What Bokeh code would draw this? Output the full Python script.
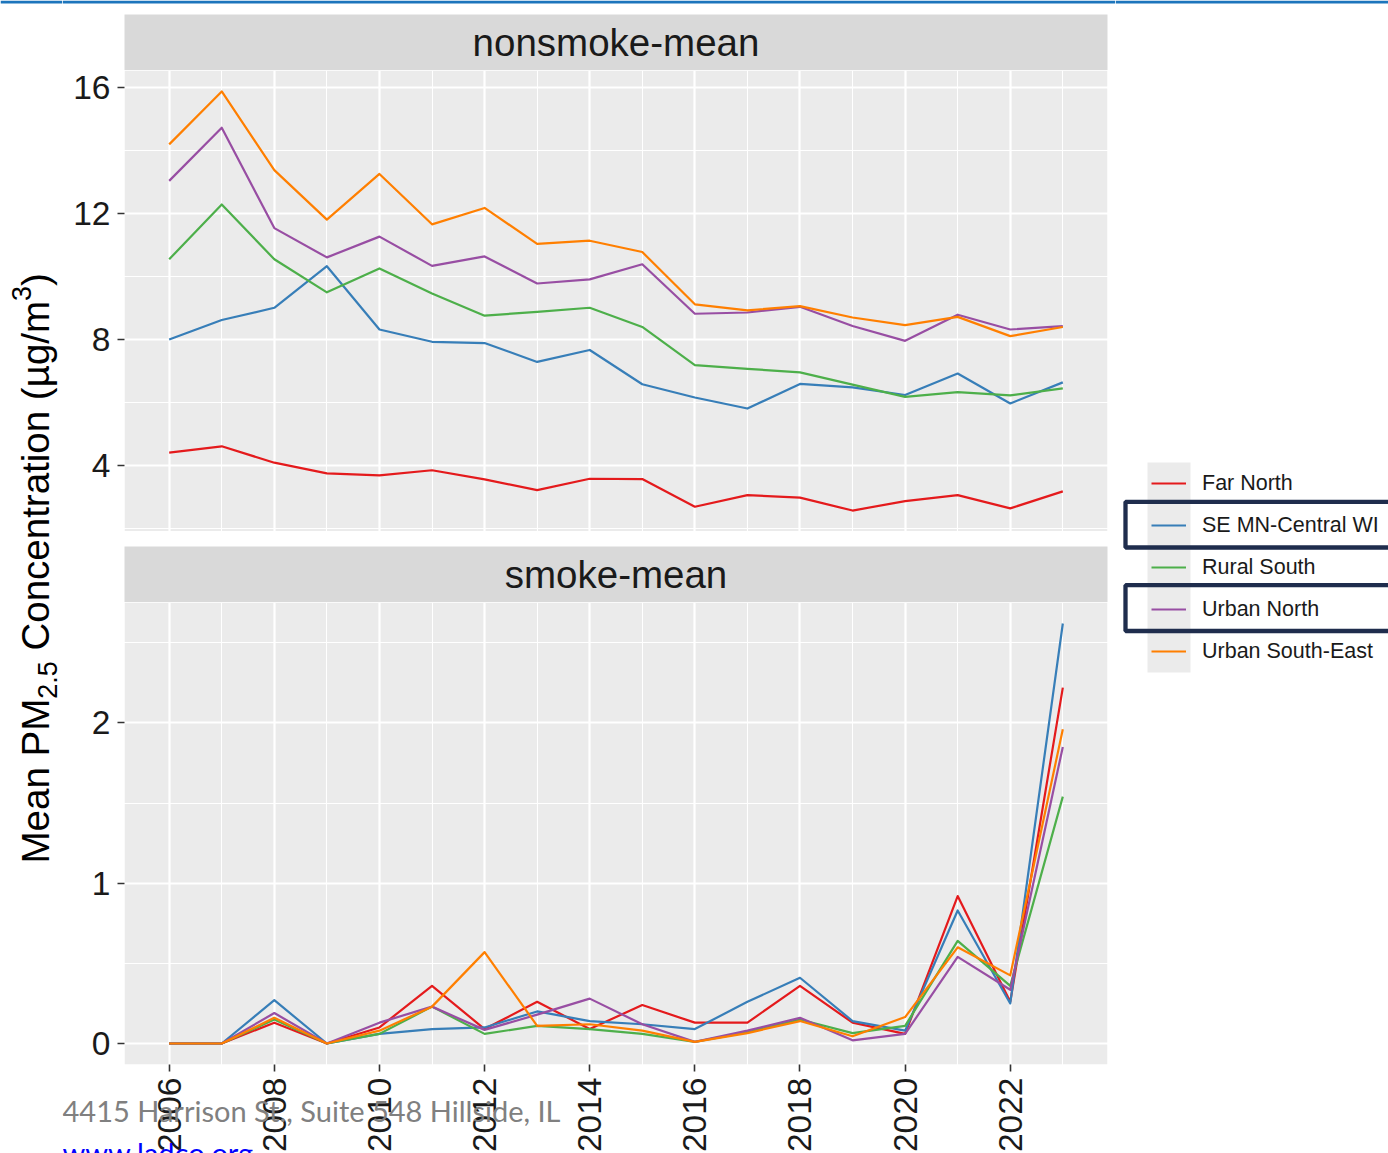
import math
from bokeh.plotting import figure
from bokeh.models import (Range1d, FixedTicker, Label, BoxAnnotation, Legend, LegendItem)
from bokeh.layouts import row, column
from bokeh.embed import file_html
from bokeh.resources import INLINE

# ---------------- data ----------------
years = [2006, 2007, 2008, 2009, 2010, 2011, 2012, 2013, 2014,
         2015, 2016, 2017, 2018, 2019, 2020, 2021, 2022, 2023]

regions = ["Far North", "SE MN-Central WI", "Rural South", "Urban North", "Urban South-East"]
colors = ["#E41A1C", "#377EB8", "#4DAF4A", "#984EA3", "#FF7F00"]

# nonsmoke-mean (ug/m3)
nonsmoke_far_north = [4.40, 4.60, 4.08, 3.74, 3.68, 3.84, 3.55, 3.21, 3.57,
                      3.56, 2.68, 3.05, 2.97, 2.56, 2.86, 3.05, 2.63, 3.17]
nonsmoke_se_mn = [7.99, 8.61, 9.00, 10.32, 8.31, 7.92, 7.88, 7.28, 7.66,
                  6.57, 6.15, 5.80, 6.58, 6.47, 6.23, 6.91, 5.96, 6.63]
nonsmoke_rural_south = [10.54, 12.28, 10.54, 9.49, 10.25, 9.45, 8.75, 8.87, 9.00,
                        8.39, 7.18, 7.06, 6.95, 6.56, 6.17, 6.32, 6.22, 6.44]
nonsmoke_urban_north = [13.03, 14.72, 11.53, 10.60, 11.26, 10.33, 10.63, 9.77, 9.90,
                        10.38, 8.81, 8.85, 9.03, 8.42, 7.95, 8.78, 8.31, 8.42]
nonsmoke_urban_se = [14.19, 15.87, 13.37, 11.80, 13.25, 11.65, 12.17, 11.03, 11.13,
                     10.77, 9.11, 8.92, 9.05, 8.69, 8.45, 8.71, 8.10, 8.39]

# smoke-mean (ug/m3)
smoke_far_north = [0.0, 0.0, 0.13, 0.0, 0.10, 0.36, 0.09, 0.26, 0.09,
                   0.24, 0.13, 0.13, 0.36, 0.13, 0.06, 0.92, 0.26, 2.22]
smoke_se_mn = [0.0, 0.0, 0.27, 0.0, 0.06, 0.09, 0.10, 0.20, 0.14,
               0.12, 0.09, 0.26, 0.41, 0.14, 0.08, 0.83, 0.25, 2.62]
smoke_rural_south = [0.0, 0.0, 0.15, 0.0, 0.06, 0.23, 0.06, 0.11, 0.09,
                     0.06, 0.01, 0.07, 0.15, 0.065, 0.11, 0.64, 0.36, 1.54]
smoke_urban_north = [0.0, 0.0, 0.19, 0.0, 0.13, 0.23, 0.085, 0.18, 0.28,
                     0.12, 0.01, 0.08, 0.16, 0.02, 0.06, 0.54, 0.335, 1.85]
smoke_urban_se = [0.0, 0.0, 0.16, 0.0, 0.08, 0.23, 0.57, 0.11, 0.12,
                  0.08, 0.01, 0.065, 0.14, 0.045, 0.165, 0.60, 0.425, 1.96]

nonsmoke = [nonsmoke_far_north, nonsmoke_se_mn, nonsmoke_rural_south,
            nonsmoke_urban_north, nonsmoke_urban_se]
smoke = [smoke_far_north, smoke_se_mn, smoke_rural_south,
         smoke_urban_north, smoke_urban_se]

panel_titles = ["nonsmoke-mean", "smoke-mean"]
x_ticks = [2006, 2008, 2010, 2012, 2014, 2016, 2018, 2020, 2022]
x_minor = [2007, 2009, 2011, 2013, 2015, 2017, 2019, 2021, 2023]
top_ticks = [4, 8, 12, 16]
top_minor = [2, 6, 10, 14]
bottom_ticks = [0, 1, 2]
bottom_minor = [0.5, 1.5, 2.5]

footer_address = "4415 Harrison St., Suite 548 Hillside, IL"
footer_url = "www.ladco.org"

# ---------------- styling ----------------
FONT = "Liberation Sans"
TXT = "#1a1a1a"
PANEL_BG = "#EBEBEB"
STRIP_BG = "#D9D9D9"
TOP_BAR = "#1C75BC"
PAGE_H = 1153
MAIN_W = 1053
LEFT_B = 62
RIGHT_B = 8
FRAME_W = MAIN_W - LEFT_B - RIGHT_B       # 983
TOP_PANEL_H = 461
BOT_PANEL_H = 462


def expanded(vals_list):
    lo = min(min(v) for v in vals_list)
    hi = max(max(v) for v in vals_list)
    d = (hi - lo) * 0.05
    return lo - d, hi + d


x_lo, x_hi = expanded([years])
kx = (x_hi - x_lo) / FRAME_W
x_view = (x_lo - LEFT_B * kx, x_hi + RIGHT_B * kx)


def scr_box(**kw):
    units = dict(left_units="screen", right_units="screen",
                 top_units="screen", bottom_units="screen")
    units.update(kw)
    return BoxAnnotation(**units)


def blank_fig(width, height):
    f = figure(width=width, height=height, output_backend="svg", toolbar_location=None,
               x_range=Range1d(0, 1), y_range=Range1d(0, 1),
               min_border_left=0, min_border_right=0, min_border_top=0, min_border_bottom=0,
               x_axis_location=None, y_axis_location=None,
               background_fill_color="white", border_fill_color="white",
               outline_line_color=None)
    f.grid.visible = False
    return f


def style_grid(p, yt, ym):
    p.xgrid.ticker = FixedTicker(ticks=x_ticks, minor_ticks=x_minor)
    p.ygrid.ticker = FixedTicker(ticks=yt, minor_ticks=ym)
    for g in (p.xgrid, p.ygrid):
        g.grid_line_color = "white"
        g.grid_line_width = 2.2
        g.minor_grid_line_color = "white"
        g.minor_grid_line_width = 1.1


def style_axis(ax):
    ax.axis_line_color = None
    ax.major_tick_line_color = "#333333"
    ax.major_tick_line_width = 1.6
    ax.major_tick_out = 7
    ax.major_tick_in = 0
    ax.minor_tick_line_color = None
    ax.major_label_standoff = 7
    ax.major_label_text_font = FONT
    ax.major_label_text_font_size = "33.5px"
    ax.major_label_text_color = TXT


def panel_fig(height, y_range, series, yt, ym, y_lo, with_xaxis):
    # frame spans the whole canvas; the grey panel is the data window [x_lo,x_hi] x [y_lo, top]
    p = figure(width=MAIN_W, height=height, output_backend="svg", toolbar_location=None,
               x_range=Range1d(*x_view), y_range=y_range,
               min_border_left=0, min_border_right=0, min_border_top=0, min_border_bottom=0,
               x_axis_location="below" if with_xaxis else None,
               background_fill_color="white", border_fill_color="white",
               outline_line_color=None)
    # grey panel background (drawn beneath the grid)
    p.add_layout(BoxAnnotation(left=x_lo, right=x_hi, bottom=y_lo, fill_color=PANEL_BG,
                               fill_alpha=1, line_color=None, level="image"))
    style_grid(p, yt, ym)
    # hide grid lines outside the panel
    masks = [dict(right=x_lo), dict(left=x_hi)]
    if with_xaxis:
        masks.append(dict(top=y_lo))
    for kw in masks:
        p.add_layout(BoxAnnotation(fill_color="white", fill_alpha=1, line_color=None,
                                   level="underlay", **kw))
    for vals, c in zip(series, colors):
        p.line(years, vals, line_color=c, line_width=2.2, line_join="round")
    ya = p.yaxis[0]
    ya.ticker = FixedTicker(ticks=yt, minor_ticks=ym)
    ya.fixed_location = x_lo
    style_axis(ya)
    return p


def strip_fig(height, title, with_bar):
    s = blank_fig(MAIN_W, height)
    s.add_layout(scr_box(left=LEFT_B, right=LEFT_B + FRAME_W, bottom=0, top=56,
                         fill_color=STRIP_BG, fill_alpha=1, line_color=None))
    if with_bar:
        s.add_layout(scr_box(bottom=height - 3, top=height, fill_color=TOP_BAR,
                             fill_alpha=1, line_color=None))
    s.add_layout(Label(x=LEFT_B + FRAME_W / 2, y=28, x_units="screen", y_units="screen",
                       text=title, text_align="center", text_baseline="middle",
                       text_font=FONT, text_font_size="38.5px", text_color=TXT))
    return s


# ---------- strips and panels ----------
strip1 = strip_fig(70, panel_titles[0], True)

t_lo, t_hi = expanded(nonsmoke)
top = panel_fig(TOP_PANEL_H, Range1d(t_lo, t_hi), nonsmoke, top_ticks, top_minor, t_lo, False)

strip2 = strip_fig(602 - 70 - TOP_PANEL_H, panel_titles[1], False)

BOT_H = PAGE_H - 602
b_lo, b_hi = expanded(smoke)
ky = (b_hi - b_lo) / BOT_PANEL_H
bottom = panel_fig(BOT_H, Range1d(b_lo - (BOT_H - BOT_PANEL_H) * ky, b_hi), smoke,
                   bottom_ticks, bottom_minor, b_lo, True)

xa = bottom.xaxis[0]
xa.ticker = FixedTicker(ticks=x_ticks, minor_ticks=x_minor)
xa.fixed_location = b_lo
style_axis(xa)
xa.major_label_orientation = math.pi / 2
xa.major_label_standoff = 6

bottom.add_layout(Label(x=0, y=43, x_units="screen", y_units="screen",
                        text=footer_address, text_align="left", text_baseline="middle",
                        text_font="Lato", text_font_size="29px", text_color="#808080"))
bottom.add_layout(Label(x=0, y=1, x_units="screen", y_units="screen",
                        text=footer_url, text_align="left", text_baseline="middle",
                        text_font="Lato", text_font_size="29px", text_color="#0000FF"))

# ---------------- y title ----------------
yt_fig = blank_fig(62, PAGE_H)
yt_fig.add_layout(scr_box(bottom=PAGE_H - 3, top=PAGE_H, fill_color=TOP_BAR, fill_alpha=1,
                          line_color=None))
F_MAIN = 38.5
F_SUB = 27.0
pieces = [
    ("Mean PM", F_MAIN, 35, 4.279 * F_MAIN),
    ("2.5", F_SUB, 47, 1.39 * F_SUB + 0.278 * F_MAIN),
    ("Concentration (µg/m", F_MAIN, 35, 9.079 * F_MAIN),
    ("3", F_SUB, 20.5, 0.556 * F_SUB),
    (")", F_MAIN, 35, 0.333 * F_MAIN),
]
pos = PAGE_H - 863
for txt, fs, xc, adv in pieces:
    yt_fig.add_layout(Label(x=xc, y=pos, x_units="screen", y_units="screen",
                            text=txt, angle=math.pi / 2, text_align="left",
                            text_baseline="middle", text_font=FONT,
                            text_font_size=f"{fs}px", text_color="black"))
    pos += adv

# ---------------- legend ----------------
LEG_W = 1388 - 62 - MAIN_W
lg = blank_fig(LEG_W, PAGE_H)
lg.add_layout(scr_box(bottom=PAGE_H - 3, top=PAGE_H, fill_color=TOP_BAR, fill_alpha=1,
                      line_color=None))
lg.add_layout(scr_box(left=32, right=75, bottom=PAGE_H - 672, top=PAGE_H - 462,
                      fill_color=PANEL_BG, fill_alpha=1.0, line_color=None, level="underlay"))
items = []
for name, c in zip(regions, colors):
    r = lg.line(x=[math.nan], y=[math.nan], line_color=c, line_width=2.2)
    items.append(LegendItem(label=name, renderers=[r]))
legend = Legend(items=items, location=(36, PAGE_H - 672), orientation="vertical",
                glyph_width=35, glyph_height=42, label_standoff=16, spacing=0,
                padding=0, margin=0, border_line_color=None, background_fill_alpha=0,
                label_text_font=FONT, label_text_font_size="21.5px", label_text_color=TXT)
lg.add_layout(legend)

for b_top, b_bot in [(501.3, 547.0), (584.7, 630.5)]:
    lg.add_layout(scr_box(left=10, right=400, top=PAGE_H - b_top, bottom=PAGE_H - b_bot,
                          fill_alpha=0, line_color="#1f2d4d", line_alpha=1.0, line_width=4.3))

layout = row(yt_fig, column(strip1, top, strip2, bottom), lg)

open("out.html", "w").write(file_html(layout, INLINE))
